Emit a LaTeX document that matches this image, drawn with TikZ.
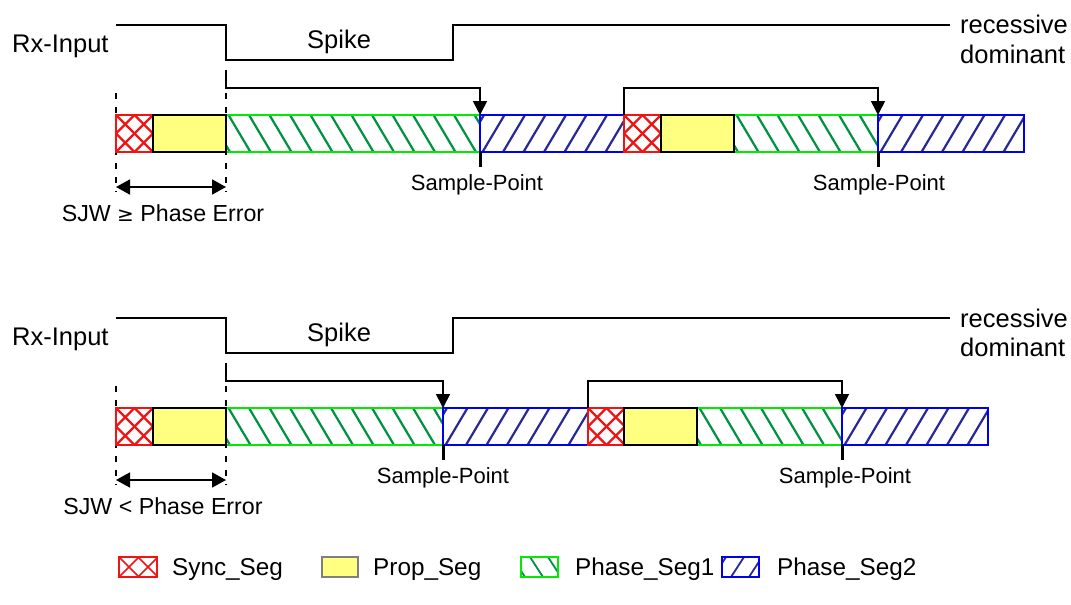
\documentclass[tikz,border=0pt]{standalone}
\usepackage{fontspec}
\setmainfont{Liberation Sans}
\usetikzlibrary{arrows.meta}
\definecolor{hgreen}{RGB}{0,145,65}
\definecolor{hblue}{RGB}{40,40,150}
\definecolor{bgreen}{RGB}{0,235,0}
\definecolor{bblue}{RGB}{0,0,240}
\definecolor{bred}{RGB}{240,20,20}
\definecolor{pyellow}{RGB}{255,255,128}
\tikzset{
  bigtxt/.style={font=\fontsize{25.5}{30}\selectfont, inner sep=0pt, anchor=base west},
  smalltxt/.style={font=\fontsize{22}{26}\selectfont, inner sep=0pt, anchor=base},
  sjwtxt/.style={font=\fontsize{23.2}{27}\selectfont, inner sep=0pt, anchor=base},
  legtxt/.style={font=\fontsize{24.3}{28}\selectfont, inner sep=0pt, anchor=base west},
  sig/.style={line width=1.7pt, black},
  brk/.style={line width=1.7pt, black, -{Triangle[length=14pt,width=14pt]}},
  dbl/.style={line width=1.7pt, black, {Triangle[length=14pt,width=15pt]}-{Triangle[length=14pt,width=15pt]}},
  dsh/.style={line width=1.6pt, black, dash pattern=on 6pt off 8pt},
  tick/.style={line width=3pt, black},
  hatchln/.style={line width=2.2pt},
  border/.style={line width=2pt},
}
% x1 x2 ytop (height 37)
\newcommand\SyncSeg[3]{%
  \begin{scope}
    \clip (#1,#3) rectangle (#2,#3+37);
    \foreach \k in {-2,...,2} {%
      \draw[bred,hatchln] (#1+\k*18.5,#3) -- ++(37,37);
      \draw[bred,hatchln] (#1+\k*18.5,#3+37) -- ++(37,-37);}
  \end{scope}
  \draw[bred,border] (#1,#3) rectangle (#2,#3+37);}
\newcommand\PropSeg[3]{%
  \draw[black,fill=pyellow,border] (#1,#3) rectangle (#2,#3+37);}
\newcommand\PhaseOne[3]{%
  \begin{scope}
    \clip (#1,#3) rectangle (#2,#3+37);
    \foreach \k in {0,...,15}
      \draw[hgreen,hatchln] (#1-18+\k*20.5,#3) -- ++(22,37);
  \end{scope}
  \draw[bgreen,border] (#1,#3) rectangle (#2,#3+37);}
\newcommand\PhaseTwo[3]{%
  \begin{scope}
    \clip (#1,#3) rectangle (#2,#3+37);
    \foreach \k in {0,...,15}
      \draw[hblue,hatchln] (#1-18+\k*20.5,#3+37) -- ++(22,-37);
  \end{scope}
  \draw[bblue,border] (#1,#3) rectangle (#2,#3+37);}
\begin{document}
\begin{tikzpicture}[x=1pt,y=-1pt]
\useasboundingbox (0,0) rectangle (1071,605);

% ================= TOP DIAGRAM =================
\node[bigtxt] (rx1) at (12,52) {Rx-Input};
\node[bigtxt] (sp1) at (307,48) {Spike};
\node[bigtxt] (rec1) at (960,34) {recessive};
\node[bigtxt] (dom1) at (960,63) {dominant};
\draw[sig] (116,25) -- (226,25) -- (226,60) -- (453,60) -- (453,25) -- (950,25);

% dashed markers
\draw[dsh] (116,93) -- (116,192);
\draw[dsh] (226,93) -- (226,192);

% bar
\SyncSeg{116}{153}{115}
\PhaseOne{226}{480}{115}
\PropSeg{153}{226}{115}
\PhaseTwo{480}{624}{115}
\SyncSeg{624}{661}{115}
\PhaseOne{734}{878}{115}
\PropSeg{661}{734}{115}
\PhaseTwo{878}{1024}{115}

% brackets
\coordinate (b1s) at (226,70);
\coordinate (b1e) at (480,115);
\draw[brk] (b1s) |- (480,88) -- (b1e);
\coordinate (b2s) at (624,115);
\coordinate (b2e) at (878,115);
\draw[brk] (b2s) |- (878,88) -- (b2e);

% sample points
\draw[tick] (480,152) -- (480,167);
\draw[tick] (878,152) -- (878,167);
\node[smalltxt] (spt1) at (477,190) {Sample-Point};
\node[smalltxt] (spt2) at (879,190) {Sample-Point};

% SJW
\coordinate (s1a) at (116,187);
\coordinate (s1b) at (226,187);
\draw[dbl] (s1a) -- (s1b);
\node[sjwtxt] (sjw1) at (163,221) {SJW \fontspec{DejaVu Sans}\fontsize{20}{24}\selectfont≥\fontspec{Liberation Sans}\fontsize{23.2}{27}\selectfont{} Phase Error};

% ================= BOTTOM DIAGRAM =================
\begin{scope}[yshift=-293pt]
\node[bigtxt] (rx2) at (12,52) {Rx-Input};
\node[bigtxt] (sp2) at (307,48) {Spike};
\node[bigtxt] (rec2) at (960,34) {recessive};
\node[bigtxt] (dom2) at (960,63) {dominant};
\draw[sig] (116,25) -- (226,25) -- (226,60) -- (453,60) -- (453,25) -- (950,25);

\draw[dsh] (116,93) -- (116,192);
\draw[dsh] (226,93) -- (226,192);

\SyncSeg{116}{153}{115}
\PhaseOne{226}{443}{115}
\PropSeg{153}{226}{115}
\PhaseTwo{443}{588}{115}
\SyncSeg{588}{624}{115}
\PhaseOne{697}{842}{115}
\PropSeg{624}{697}{115}
\PhaseTwo{842}{988}{115}

\coordinate (c1s) at (226,70);
\coordinate (c1e) at (443,115);
\draw[brk] (c1s) |- (443,88) -- (c1e);
\coordinate (c2s) at (588,115);
\coordinate (c2e) at (842,115);
\draw[brk] (c2s) |- (842,88) -- (c2e);

\draw[tick] (443,152) -- (443,167);
\draw[tick] (842,152) -- (842,167);
\node[smalltxt] (spt3) at (443,190) {Sample-Point};
\node[smalltxt] (spt4) at (845,190) {Sample-Point};

\coordinate (s2a) at (116,187);
\coordinate (s2b) at (226,187);
\draw[dbl] (s2a) -- (s2b);
\node[sjwtxt] (sjw2) at (163,221) {SJW < Phase Error};
\end{scope}

% ================= LEGEND =================
\begin{scope}
  \clip (119,557) rectangle (157,577);
  \foreach \k in {-2,...,2} {%
    \draw[bred,line width=1.6pt] (119+\k*19,557) -- ++(20,20);
    \draw[bred,line width=1.6pt] (119+\k*19,577) -- ++(20,-20);}
\end{scope}
\draw[bred,line width=1.6pt] (119,557) rectangle (157,577);
\node[legtxt] (l1) at (172,575) {Sync\_Seg};

\draw[gray,fill=pyellow,line width=1.6pt] (322,557) rectangle (358,577);
\node[legtxt] (l2) at (373,575) {Prop\_Seg};

\begin{scope}
  \clip (521,557) rectangle (558,577);
  \foreach \k in {0,...,3}
    \draw[hgreen,line width=1.8pt] (512+\k*18,557) -- ++(13,20);
\end{scope}
\draw[bgreen,line width=1.6pt] (521,557) rectangle (558,577);
\node[legtxt] (l3) at (575,575) {Phase\_Seg1};

\begin{scope}
  \clip (722,557) rectangle (759,577);
  \foreach \k in {0,...,3}
    \draw[hblue,line width=1.8pt] (713+\k*18,577) -- ++(13,-20);
\end{scope}
\draw[bblue,line width=1.6pt] (722,557) rectangle (759,577);
\node[legtxt] (l4) at (777,575) {Phase\_Seg2};

\end{tikzpicture}
\end{document}
